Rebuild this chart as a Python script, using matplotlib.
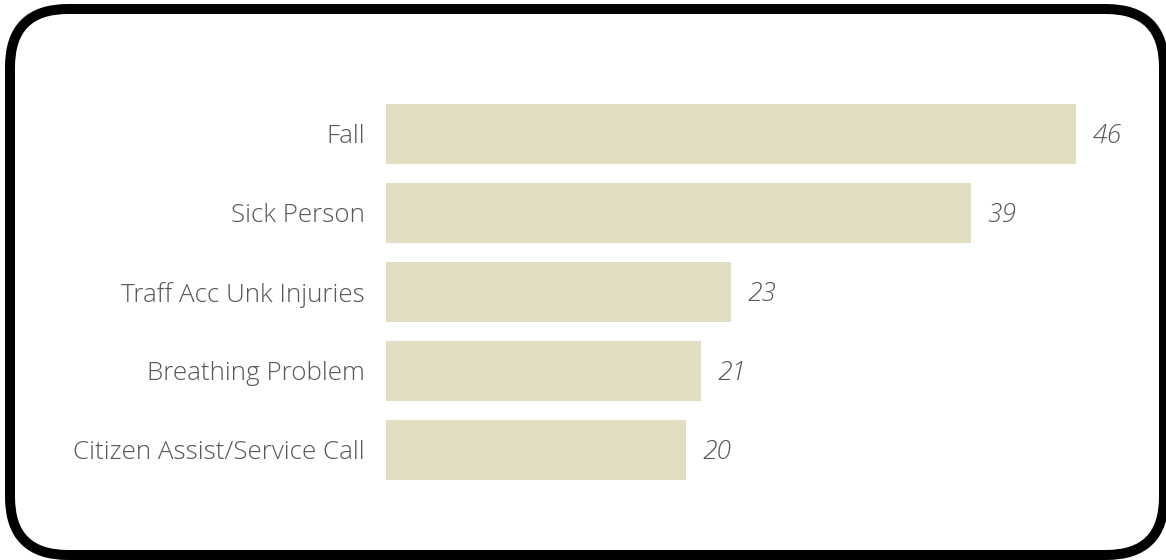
import matplotlib
matplotlib.use('Agg')
from matplotlib import pyplot as plt
from matplotlib.patches import FancyBboxPatch
from matplotlib.transforms import IdentityTransform

categories = ['Fall', 'Sick Person', 'Traff Acc Unk Injuries', 'Breathing Problem', 'Citizen Assist/Service Call']
counts = [46, 39, 23, 21, 20]

barColor = '#E2DEC2'
textColor = '#575757'

plt.rcParams['font.family'] = ['Open Sans', 'DejaVu Sans']

fig = plt.figure(figsize=(11.66, 5.6), dpi=100)
ax = fig.add_axes([0.331, 0.1259, 0.6432, 0.7054])

ypos = list(range(len(categories)))
ax.barh(ypos, counts, height=0.77, color=barColor)
ax.set_ylim(len(categories) - 0.5, -0.5)
ax.set_xlim(0, 50)

for y, v in zip(ypos, counts):
    ax.annotate(str(v), xy=(v, y), xytext=(12, -2), textcoords='offset points',
                ha='left', va='center', fontsize=19, fontstyle='italic',
                fontweight='light', color=textColor)

ax.set_yticks(ypos, labels=categories, fontsize=18.7, color=textColor, fontweight='light')
ax.tick_params(axis='y', length=0, pad=15)
ax.set_xticks([])
for side in ax.spines.values():
    side.set_visible(False)

# rounded frame around the whole visual (kept inside the canvas so Agg does not mangle the curves)
frame = FancyBboxPatch((10, 5), 1154, 546, boxstyle='round,pad=0,rounding_size=58',
                       transform=IdentityTransform(), fill=False, edgecolor='black', linewidth=7.2)
fig.add_artist(frame)

fig.savefig('out.png', dpi=100)
